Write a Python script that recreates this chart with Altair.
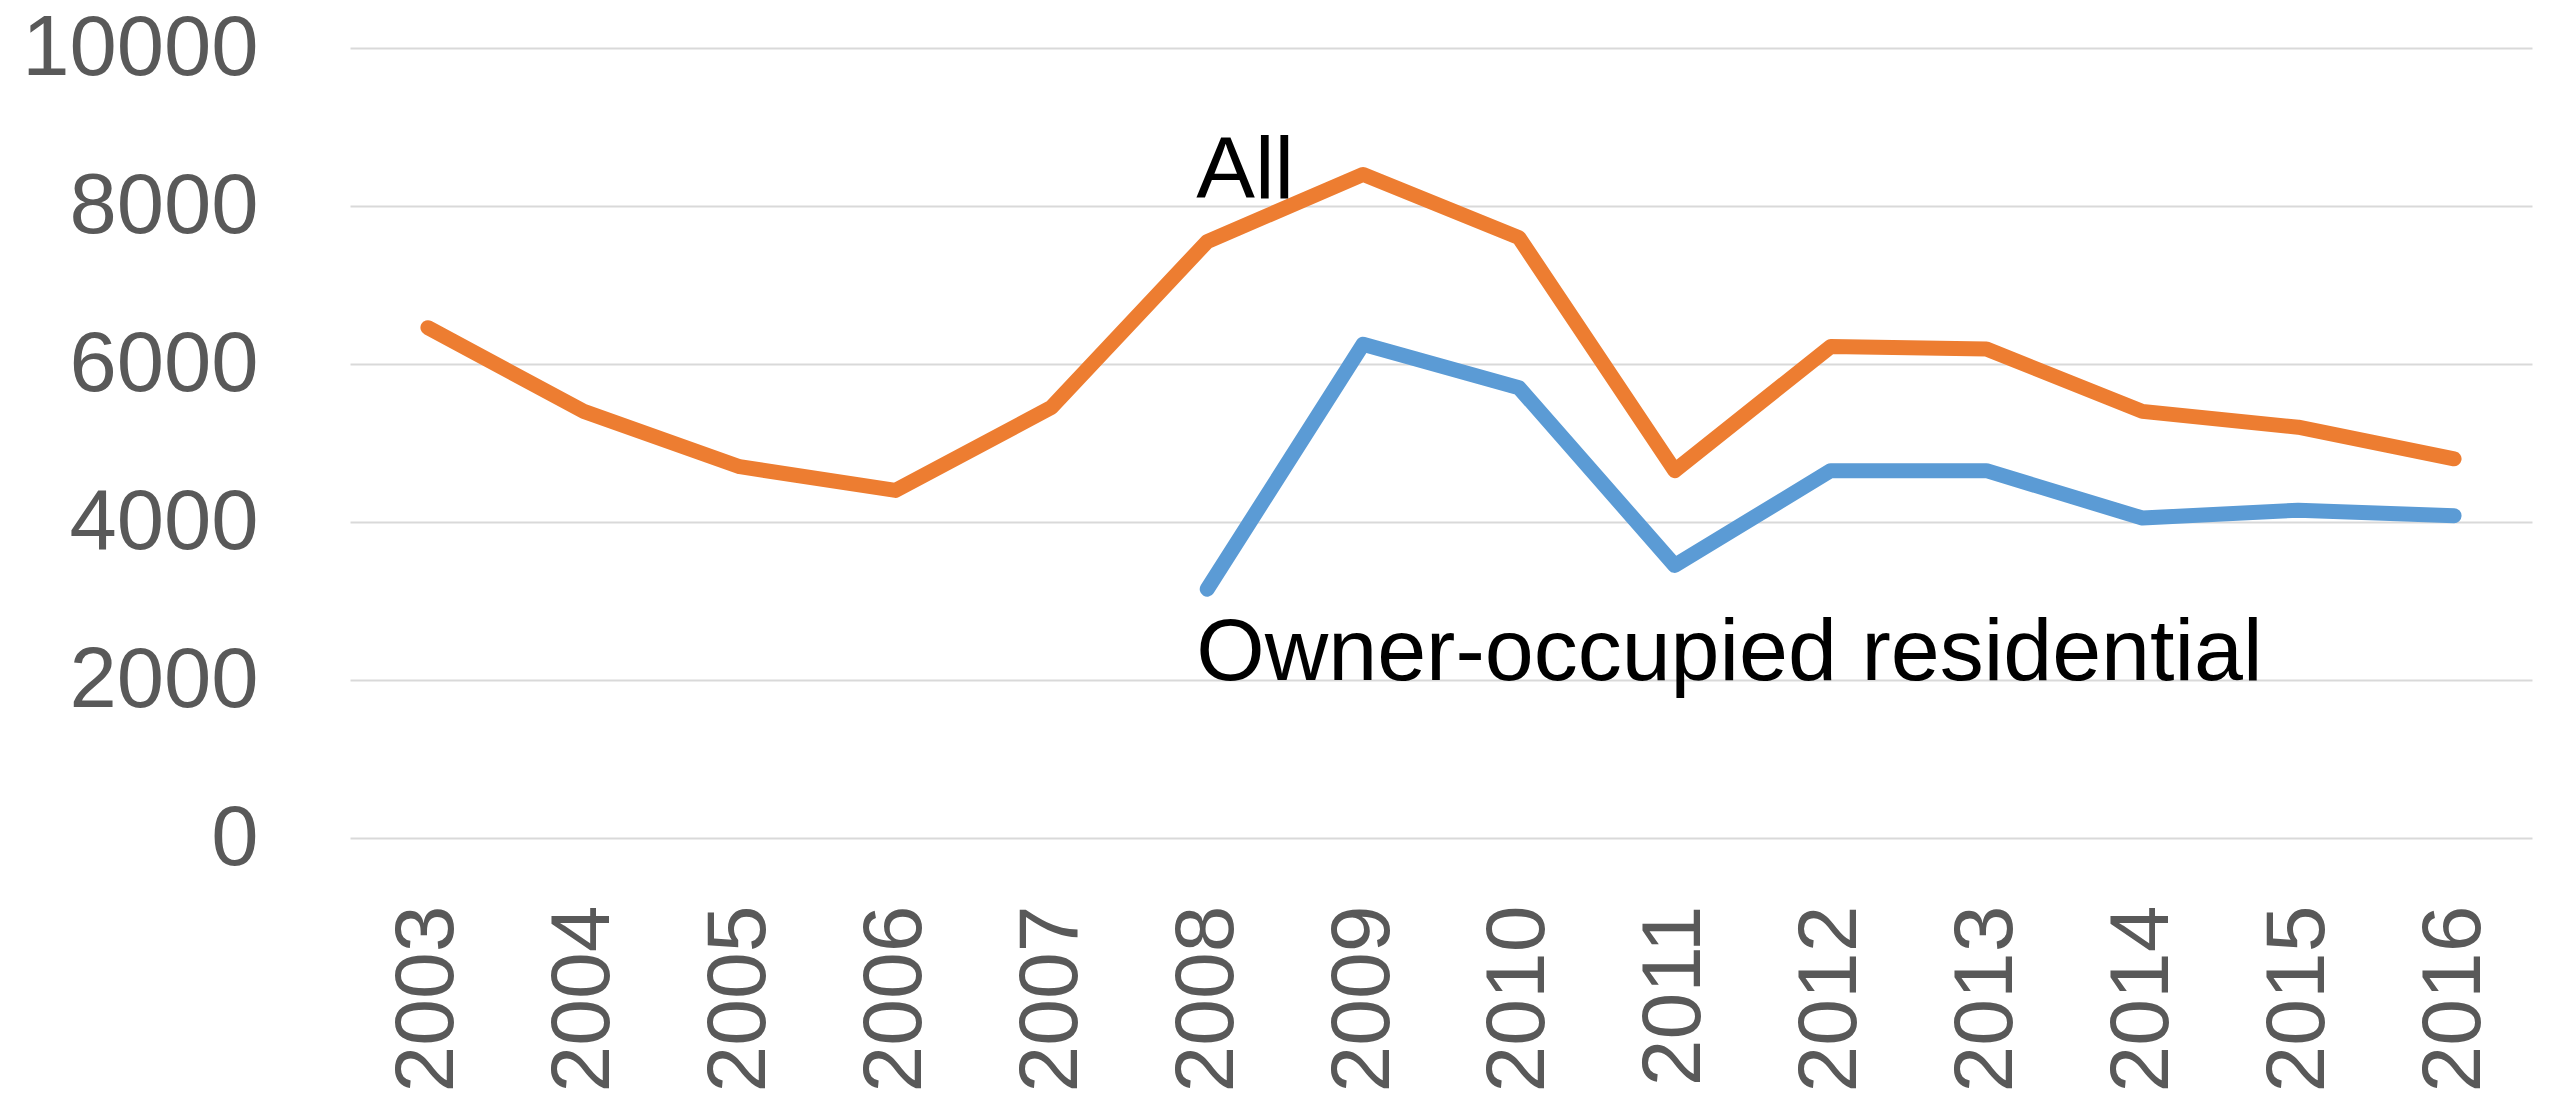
import altair as alt
import pandas as pd

years = ["2003", "2004", "2005", "2006", "2007", "2008", "2009", "2010",
         "2011", "2012", "2013", "2014", "2015", "2016"]
all_vals = [6460, 5400, 4700, 4400, 5450, 7550, 8400, 7600, 4650, 6220, 6190, 5400, 5200, 4800]
owner_vals = [None, None, None, None, None, 3150, 6250, 5700, 3450, 4650, 4650, 4050, 4150, 4080]
series_names = ["All", "Owner-occupied residential"]
series_colors = ["#ED7D31", "#5B9BD5"]
y_ticks = [0, 2000, 4000, 6000, 8000, 10000]

rows = []
for y, a, o in zip(years, all_vals, owner_vals):
    rows.append({"year": y, "value": a, "series": series_names[0]})
    if o is not None:
        rows.append({"year": y, "value": o, "series": series_names[1]})
df = pd.DataFrame(rows)

labels = pd.DataFrame({
    "year": ["2008", "2008"],
    "value": [8100, 2000],
    "text": series_names,
})

x_enc = alt.X("year:O", sort=years, scale=alt.Scale(padding=0.5),
              axis=alt.Axis(title=None, labelAngle=-90, labelFontSize=84,
                            labelColor="#595959", labelFont="Liberation Sans",
                            labelPadding=67, ticks=False, domain=False, grid=False,
                            labelAlign="right", labelBaseline="middle", labelLimit=0))
y_enc = alt.Y("value:Q", scale=alt.Scale(domain=[0, 10000], nice=False),
              axis=alt.Axis(title=None, values=y_ticks, format="d", labelFontSize=85,
                            labelColor="#595959", labelFont="Liberation Sans",
                            labelPadding=92, ticks=False, domain=False, labelLimit=0,
                            gridColor="#D9D9D9", gridWidth=2))

lines = alt.Chart(df).mark_line(strokeWidth=15, strokeCap="round", strokeJoin="round").encode(
    x=x_enc,
    y=y_enc,
    color=alt.Color("series:N", scale=alt.Scale(domain=series_names, range=series_colors),
                    legend=None),
)

text = alt.Chart(labels).mark_text(align="left", baseline="alphabetic", dx=-11,
                                   fontSize=88, font="Liberation Sans", color="#000000").encode(
    x=alt.X("year:O", sort=years),
    y=alt.Y("value:Q"),
    text="text:N",
)

chart = alt.layer(lines, text).properties(
    width=2182, height=790,
    background="white",
    autosize=alt.AutoSizeParams(type="none"),
    padding={"left": 342, "top": 40, "right": 10, "bottom": 256},
).configure_view(strokeWidth=0)

chart.save("out.html", embed_options={"renderer": "svg", "actions": False})
